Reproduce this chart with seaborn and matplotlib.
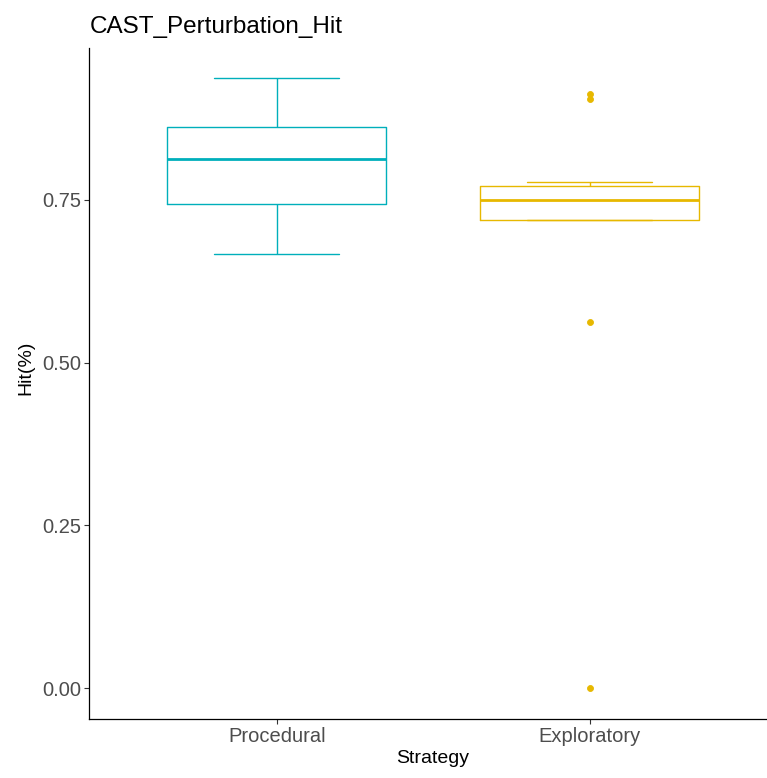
import matplotlib
matplotlib.use("Agg")
import matplotlib.pyplot as plt
import seaborn as sns
import pandas as pd

# Hit rate per participant, grouped by strategy
strategies = ["Procedural", "Exploratory"]
procedural_hit = [0.6665, 0.70, 0.7438, 0.78, 0.8125, 0.84, 0.8627, 0.90, 0.9370]
exploratory_hit = [0.0, 0.5625, 0.7197, 0.7197, 0.73, 0.74, 0.7505, 0.76, 0.765,
                   0.7715, 0.777, 0.905, 0.913]
palette_colors = ["#00AFBB", "#E7B800"]
y_ticks = [0.0, 0.25, 0.50, 0.75]
y_tick_labels = ["0.00", "0.25", "0.50", "0.75"]

df = pd.DataFrame({
    "Strategy": [strategies[0]] * len(procedural_hit) + [strategies[1]] * len(exploratory_hit),
    "Hit": procedural_hit + exploratory_hit,
})

sns.set_theme(style="ticks")
plt.rcParams["font.family"] = ["Liberation Sans", "DejaVu Sans"]

fig = plt.figure(figsize=(7.67, 7.78), dpi=100)
ax = fig.add_axes([89 / 767, 1 - 719 / 778, 678 / 767, 671 / 778])

sns.boxplot(
    data=df, x="Strategy", y="Hit", hue="Strategy", order=strategies,
    hue_order=strategies, palette=palette_colors, fill=False, legend=False,
    width=0.7, whis=1.5, linewidth=1.0, capwidths=0.4,
    medianprops=dict(linewidth=2.0),
    flierprops=dict(marker="o", markersize=4.3, markeredgewidth=0.6),
    ax=ax,
)

# Solid outlier dots in the box colour
for line in ax.lines:
    if line.get_marker() == "o":
        line.set_markerfacecolor(line.get_markeredgecolor())

ax.set_xlim(-0.6, 1.567)
ax.set_ylim(-0.04764, 0.9836)
ax.set_yticks(y_ticks)
ax.set_yticklabels(y_tick_labels)

sns.despine(ax=ax)
for side in ["left", "bottom"]:
    ax.spines[side].set_linewidth(0.9)
    ax.spines[side].set_color("black")

ax.tick_params(axis="both", length=3.5, width=0.8, color="#333333",
               labelsize=14.5, labelcolor="#4D4D4D", pad=2)

ax.set_xlabel("Strategy", fontsize=14, color="black", labelpad=3)
ax.set_ylabel("Hit(%)", fontsize=14, color="black", labelpad=6)
ax.xaxis.label.set_x(0.507)
ax.yaxis.label.set_y(0.523)

fig.text(90 / 767, 1 - 33 / 778, "CAST_Perturbation_Hit", fontsize=17.5,
         color="black", ha="left", va="baseline")

fig.savefig("out.png", dpi=100)
